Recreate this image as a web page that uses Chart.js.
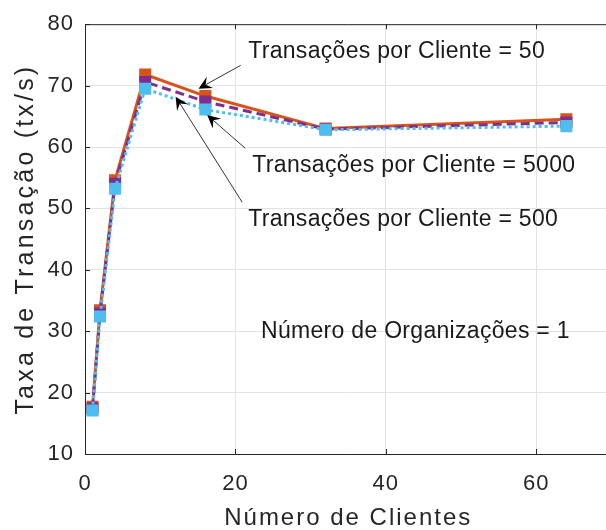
<!DOCTYPE html>
<html>
<head>
<meta charset="utf-8">
<script src="https://cdn.jsdelivr.net/npm/chart.js@4.4.1/dist/chart.umd.min.js"></script>
<style>
html,body{margin:0;padding:0;background:#fff;overflow:hidden;}
#wrap{width:620px;height:530px;}
</style>
</head>
<body>
<div id="wrap"><canvas id="c" width="620" height="530"></canvas></div>
<script>
// ---- data ----
const clientes = [1, 2, 4, 8, 16, 32, 64];
const tx50   = [17.7, 33.4, 54.6, 71.8, 68.3, 63.0, 64.5];
const tx5000 = [17.4, 32.9, 54.0, 70.6, 67.4, 62.9, 64.0];
const tx500  = [17.1, 32.4, 53.2, 69.5, 66.1, 62.8, 63.4];
const xTicks = [0, 20, 40, 60];
const yTicks = [10, 20, 30, 40, 50, 60, 70, 80];

const toPts = (ys) => clientes.map((x, i) => ({x: x, y: ys[i]}));

const FONT = "'Liberation Sans', Arial, Helvetica, sans-serif";
const INK = '#262626';

// letter spacing per scale (px), to mimic the loose text of the original export
const SPACING = {x: {title: 2, ticks: 1}, y: {title: 3.2, ticks: 1}};
const origTitle = Chart.Scale.prototype.drawTitle;
Chart.Scale.prototype.drawTitle = function (...args) {
  const c = this.ctx, prev = c.letterSpacing;
  const sp = SPACING[this.id] ? SPACING[this.id].title : 0;
  c.letterSpacing = sp + 'px';
  origTitle.apply(this, args);
  c.letterSpacing = prev || '0px';
};
const origLabels = Chart.Scale.prototype.drawLabels;
Chart.Scale.prototype.drawLabels = function (...args) {
  const c = this.ctx, prev = c.letterSpacing;
  const sp = SPACING[this.id] ? SPACING[this.id].ticks : 0;
  c.letterSpacing = sp + 'px';
  origLabels.apply(this, args);
  c.letterSpacing = prev || '0px';
};

// annotations in data coordinates
const notes = [
  {text: 'Transações por Cliente = 50',   tx: 21.7, ty: 75.5, ax: [20.7, 73.3], ah: [15.1, 69.5]},
  {text: 'Transações por Cliente = 5000', tx: 22.25, ty: 56.9, ax: [21.3, 59.8], ah: [16.25, 65.2]},
  {text: 'Transações por Cliente = 500',  tx: 21.7, ty: 48.1, ax: [20.9, 51.0], ah: [12.05, 68.2]},
  {text: 'Número de Organizações = 1',    tx: 23.4, ty: 30.0}
];

const overlay = {
  id: 'overlay',
  afterDatasetsDraw(chart) {
    const ctx = chart.ctx, xs = chart.scales.x, ys = chart.scales.y, a = chart.chartArea;
    ctx.save();
    // box top line and inward ticks
    ctx.strokeStyle = INK; ctx.lineWidth = 1;
    ctx.beginPath();
    ctx.moveTo(a.left, a.top + 0.5); ctx.lineTo(a.right, a.top + 0.5);
    xTicks.forEach(v => { const px = Math.round(xs.getPixelForValue(v)) + 0.5;
      ctx.moveTo(px, a.bottom); ctx.lineTo(px, a.bottom - 5);
      ctx.moveTo(px, a.top); ctx.lineTo(px, a.top + 5); });
    yTicks.forEach(v => { const py = Math.round(ys.getPixelForValue(v)) + 0.5;
      ctx.moveTo(a.left, py); ctx.lineTo(a.left + 5, py); });
    ctx.stroke();
    // annotations
    ctx.fillStyle = '#000'; ctx.strokeStyle = '#000';
    ctx.font = '23px ' + FONT;
    ctx.letterSpacing = '0.3px';
    ctx.textBaseline = 'middle'; ctx.textAlign = 'left';
    notes.forEach(n => {
      ctx.fillStyle = '#1a1a1a';
      ctx.fillText(n.text, xs.getPixelForValue(n.tx), ys.getPixelForValue(n.ty));
      ctx.fillStyle = '#000';
      if (n.ax) {
        const x0 = xs.getPixelForValue(n.ax[0]), y0 = ys.getPixelForValue(n.ax[1]);
        const x1 = xs.getPixelForValue(n.ah[0]), y1 = ys.getPixelForValue(n.ah[1]);
        const ang = Math.atan2(y1 - y0, x1 - x0);
        const L = 13, W = 6.5, N = 8;
        const bx = x1 - L * Math.cos(ang), by = y1 - L * Math.sin(ang);
        const nx = x1 - N * Math.cos(ang), ny = y1 - N * Math.sin(ang);
        ctx.lineWidth = 0.8;
        ctx.beginPath(); ctx.moveTo(x0, y0); ctx.lineTo(nx, ny); ctx.stroke();
        ctx.beginPath();
        ctx.moveTo(x1, y1);
        ctx.lineTo(bx + W * Math.sin(ang), by - W * Math.cos(ang));
        ctx.lineTo(nx, ny);
        ctx.lineTo(bx - W * Math.sin(ang), by + W * Math.cos(ang));
        ctx.closePath(); ctx.fill();
      }
    });
    ctx.restore();
  }
};

const ds = (label, ys, color, dash, order) => ({
  label, data: toPts(ys), borderColor: color, backgroundColor: color,
  borderWidth: 3, borderDash: dash, pointStyle: 'rect', pointRadius: 8.5,
  pointHoverRadius: 8.5, pointBorderWidth: 0, pointBackgroundColor: color, tension: 0, order
});

new Chart(document.getElementById('c'), {
  type: 'line',
  data: {
    datasets: [
      ds('50', tx50, '#D95319', [], 3),
      ds('5000', tx5000, '#7E2F8E', [9, 5], 2),
      ds('500', tx500, '#4DBEEE', [3, 3], 1)
    ]
  },
  options: {
    responsive: false, animation: false, devicePixelRatio: 1,
    layout: {padding: {top: 20, right: 8, left: 0, bottom: 0}},
    plugins: {legend: {display: false}, tooltip: {enabled: false}},
    scales: {
      x: {
        type: 'linear', min: 0, max: 70,
        afterBuildTicks: s => { s.ticks = xTicks.map(v => ({value: v})); },
        afterFit: s => { s.height = 76; },
        grid: {color: '#e3e3e3', lineWidth: 1, drawTicks: false},
        border: {color: INK, width: 1},
        ticks: {color: INK, font: {family: FONT, size: 22}, padding: 17, maxRotation: 0},
        title: {display: true, text: 'Número de Clientes', color: INK,
                font: {family: FONT, size: 24, lineHeight: 1.0}, padding: {top: 0, bottom: 0}}
      },
      y: {
        min: 10, max: 80,
        afterBuildTicks: s => { s.ticks = yTicks.map(v => ({value: v})); },
        afterFit: s => { s.width = 85; },
        grid: {color: '#e3e3e3', lineWidth: 1, drawTicks: false},
        border: {color: INK, width: 1},
        ticks: {color: INK, font: {family: FONT, size: 22}, padding: 11},
        title: {display: true, text: 'Taxa de Transação (tx/s)', color: INK,
                font: {family: FONT, size: 25, lineHeight: 1.2}, padding: {top: 11, bottom: 0}}
      }
    }
  },
  plugins: [overlay]
});
</script>
</body>
</html>
